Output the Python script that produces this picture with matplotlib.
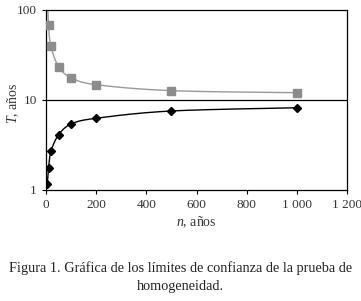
import numpy as np
import matplotlib
matplotlib.use("Agg")
import matplotlib.pyplot as plt
from matplotlib.ticker import FixedLocator, NullLocator

# Data
n_upper = [5, 10, 20, 50, 100, 200, 500, 1000]
T_upper = [200, 68, 39.5, 23.5, 17.7, 14.8, 12.7, 12.05]
n_lower = [5, 10, 20, 50, 100, 200, 500, 1000]
T_lower = [1.16, 1.74, 2.7, 4.1, 5.4, 6.27, 7.55, 8.2]
x_ticks = [0, 200, 400, 600, 800, 1000, 1200]
x_tick_labels = ["0", "200", "400", "600", "800", "1 000", "1 200"]
y_ticks = [1, 10, 100]
y_tick_labels = ["1", "10", "100"]
caption = "Figura 1. Gráfica de los límites de confianza de la prueba de\nhomogeneidad."

plt.rcParams['font.family'] = ['Liberation Serif', 'DejaVu Serif']
plt.rcParams['mathtext.fontset'] = 'custom'
plt.rcParams['mathtext.rm'] = 'Liberation Serif'
plt.rcParams['mathtext.it'] = 'Liberation Serif:italic'

fig = plt.figure(figsize=(3.61, 3.01), dpi=100)
ax = fig.add_axes([46/361, 1-190/301, (347-46)/361, 180/301])
ax.set_yscale('log')
ax.set_xlim(0, 1200)
ax.set_ylim(1, 100)


def smooth_disp(xs, ys):
    # Catmull-Rom smoothing of the drawn line, in normalized display space
    xn = np.array(xs, float) / 1200.0 * 1.67
    yl = np.log10(np.array(ys, float))
    P = np.column_stack([xn, yl])
    P = np.vstack([P[0], P, P[-1]])
    out = []
    for i in range(1, len(P) - 2):
        p0, p1, p2, p3 = P[i-1], P[i], P[i+1], P[i+2]
        for t in np.linspace(0, 1, 25, endpoint=False):
            t2, t3 = t*t, t*t*t
            pt = 0.5*((2*p1) + (-p0+p2)*t + (2*p0-5*p1+4*p2-p3)*t2 + (-p0+3*p1-3*p2+p3)*t3)
            out.append(pt)
    out.append(P[-2])
    out = np.array(out)
    return out[:, 0] * 1200.0 / 1.67, 10**out[:, 1]

ux, uy = smooth_disp(n_upper, T_upper)
lx, ly = smooth_disp(n_lower, T_lower)

ax.plot(ux, uy, color='#9a9a9a', lw=1.0, zorder=2)
ax.plot(n_upper[1:], T_upper[1:], ls='none', marker='s', ms=5.5, color='#8c8c8c', zorder=3)
ax.plot(lx, ly, color='black', lw=1.0, zorder=2)
ax.plot(n_lower, T_lower, ls='none', marker='D', ms=4.5, color='black', zorder=3)

ax.axhline(10, color='black', lw=0.9, zorder=1)

for s in ax.spines.values():
    s.set_linewidth(0.9)

ax.xaxis.set_major_locator(FixedLocator(x_ticks))
ax.set_xticklabels(x_tick_labels)
ax.yaxis.set_major_locator(FixedLocator(y_ticks))
ax.yaxis.set_minor_locator(NullLocator())
ax.set_yticklabels(y_tick_labels)
ax.tick_params(axis='both', labelsize=9.5, labelcolor='#333333', color='black',
               length=3, width=0.8, direction='out')

ax.set_xlabel(r"$\mathit{n}$, años", fontsize=10, color='#333333')
ax.xaxis.set_label_coords(0.5, -0.135)
ax.set_ylabel(r"$\mathit{T}$, años", fontsize=10, color='#333333')
ax.yaxis.set_label_coords(-0.083, 0.48)

fig.text(0.5, 1-277/301, caption, ha='center', va='center', fontsize=10.3,
         color='#222222', linespacing=1.45)

fig.savefig('out.png', dpi=100)
